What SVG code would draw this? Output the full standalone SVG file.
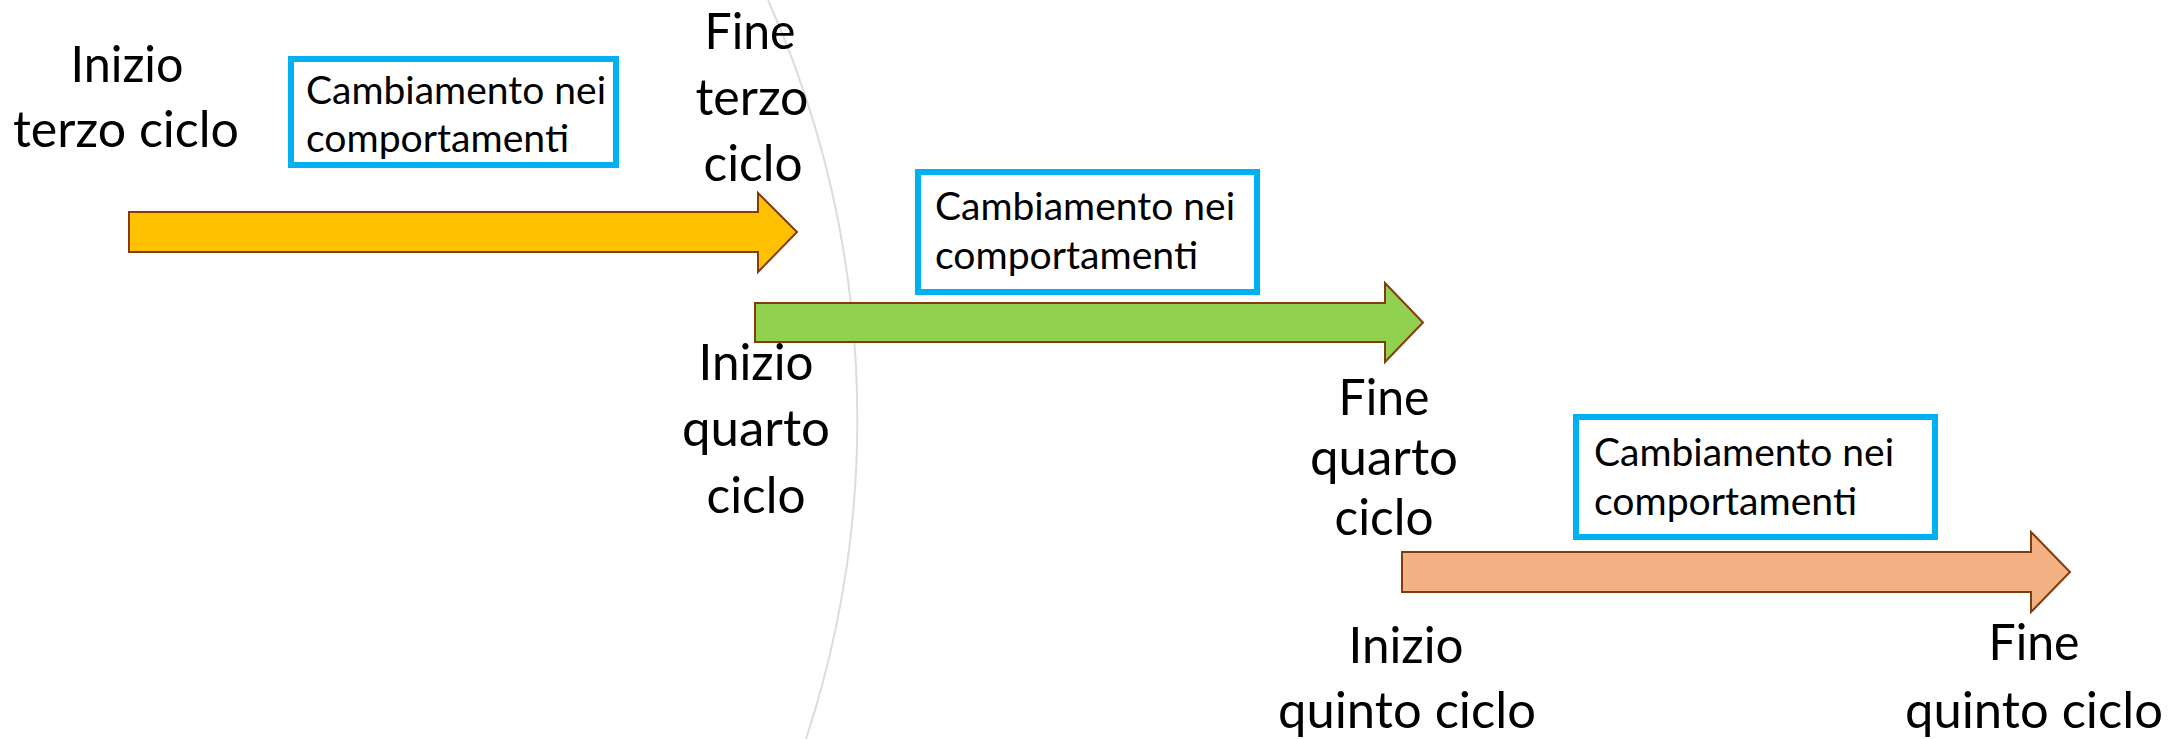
<svg xmlns="http://www.w3.org/2000/svg" width="2183" height="739" viewBox="0 0 2183 739">
<style>
.lbl{font-family:Lato,"Open Sans","DejaVu Sans",sans-serif;font-size:50px;fill:#000;text-anchor:middle}
.box{fill:#fff;stroke:#00B0F0;stroke-width:6}
.bt{font-family:Lato,"Open Sans","DejaVu Sans",sans-serif;font-size:38.5px;fill:#000}
.arr{stroke:#843C0C;stroke-width:2;stroke-linejoin:miter}
</style>
<rect width="2183" height="739" fill="#fff"/>
<path d="M768,0 A1026,1026 0 0 1 806,739" fill="none" stroke="#DCDCDC" stroke-width="2"/>
<g id="connectors">
<polygon id="arrow-terzo" class="arr" fill="#FFC000" points="129,212 758,212 758,193 797,232 758,272 758,252 129,252"/>
<polygon id="arrow-quarto" class="arr" fill="#92D050" points="755,303 1385,303 1385,283 1423,322.5 1385,362 1385,342 755,342"/>
<polygon id="arrow-quinto" class="arr" fill="#F4B183" points="1402,552 2031,552 2031,532 2070,572 2031,612 2031,592 1402,592"/>
</g>
<g id="box1">
<rect class="box" x="291" y="59" width="325" height="106"/>
<text class="bt" x="306" y="104" textLength="300" lengthAdjust="spacingAndGlyphs">Cambiamento nei</text>
<text class="bt" x="306" y="152" textLength="263" lengthAdjust="spacingAndGlyphs">comportamenti</text>
</g>
<g id="box2">
<rect class="box" x="918" y="172" width="339" height="120"/>
<text class="bt" x="935" y="220" textLength="300" lengthAdjust="spacingAndGlyphs">Cambiamento nei</text>
<text class="bt" x="935" y="269" textLength="263" lengthAdjust="spacingAndGlyphs">comportamenti</text>
</g>
<g id="box3">
<rect class="box" x="1576" y="417" width="359" height="120"/>
<text class="bt" x="1594" y="466" textLength="300" lengthAdjust="spacingAndGlyphs">Cambiamento nei</text>
<text class="bt" x="1594" y="515" textLength="263" lengthAdjust="spacingAndGlyphs">comportamenti</text>
</g>
<g id="inizio-terzo">
<text class="lbl" x="127" y="82" textLength="113" lengthAdjust="spacingAndGlyphs">Inizio</text>
<text class="lbl" x="126" y="147" textLength="226" lengthAdjust="spacingAndGlyphs">terzo ciclo</text>
</g>
<g id="fine-terzo">
<text class="lbl" x="750" y="49" textLength="91" lengthAdjust="spacingAndGlyphs">Fine</text>
<text class="lbl" x="752" y="115" textLength="113" lengthAdjust="spacingAndGlyphs">terzo</text>
<text class="lbl" x="753" y="181" textLength="99" lengthAdjust="spacingAndGlyphs">ciclo</text>
</g>
<g id="inizio-quarto">
<text class="lbl" x="756" y="380" textLength="115" lengthAdjust="spacingAndGlyphs">Inizio</text>
<text class="lbl" x="756" y="446" textLength="148" lengthAdjust="spacingAndGlyphs">quarto</text>
<text class="lbl" x="756" y="513" textLength="99" lengthAdjust="spacingAndGlyphs">ciclo</text>
</g>
<g id="fine-quarto">
<text class="lbl" x="1384" y="415" textLength="91" lengthAdjust="spacingAndGlyphs">Fine</text>
<text class="lbl" x="1384" y="475" textLength="148" lengthAdjust="spacingAndGlyphs">quarto</text>
<text class="lbl" x="1384" y="535" textLength="99" lengthAdjust="spacingAndGlyphs">ciclo</text>
</g>
<g id="inizio-quinto">
<text class="lbl" x="1406" y="663" textLength="115" lengthAdjust="spacingAndGlyphs">Inizio</text>
<text class="lbl" x="1407" y="728" textLength="258" lengthAdjust="spacingAndGlyphs">quinto ciclo</text>
</g>
<g id="fine-quinto">
<text class="lbl" x="2034" y="660" textLength="91" lengthAdjust="spacingAndGlyphs">Fine</text>
<text class="lbl" x="2034" y="728" textLength="258" lengthAdjust="spacingAndGlyphs">quinto ciclo</text>
</g>
</svg>
